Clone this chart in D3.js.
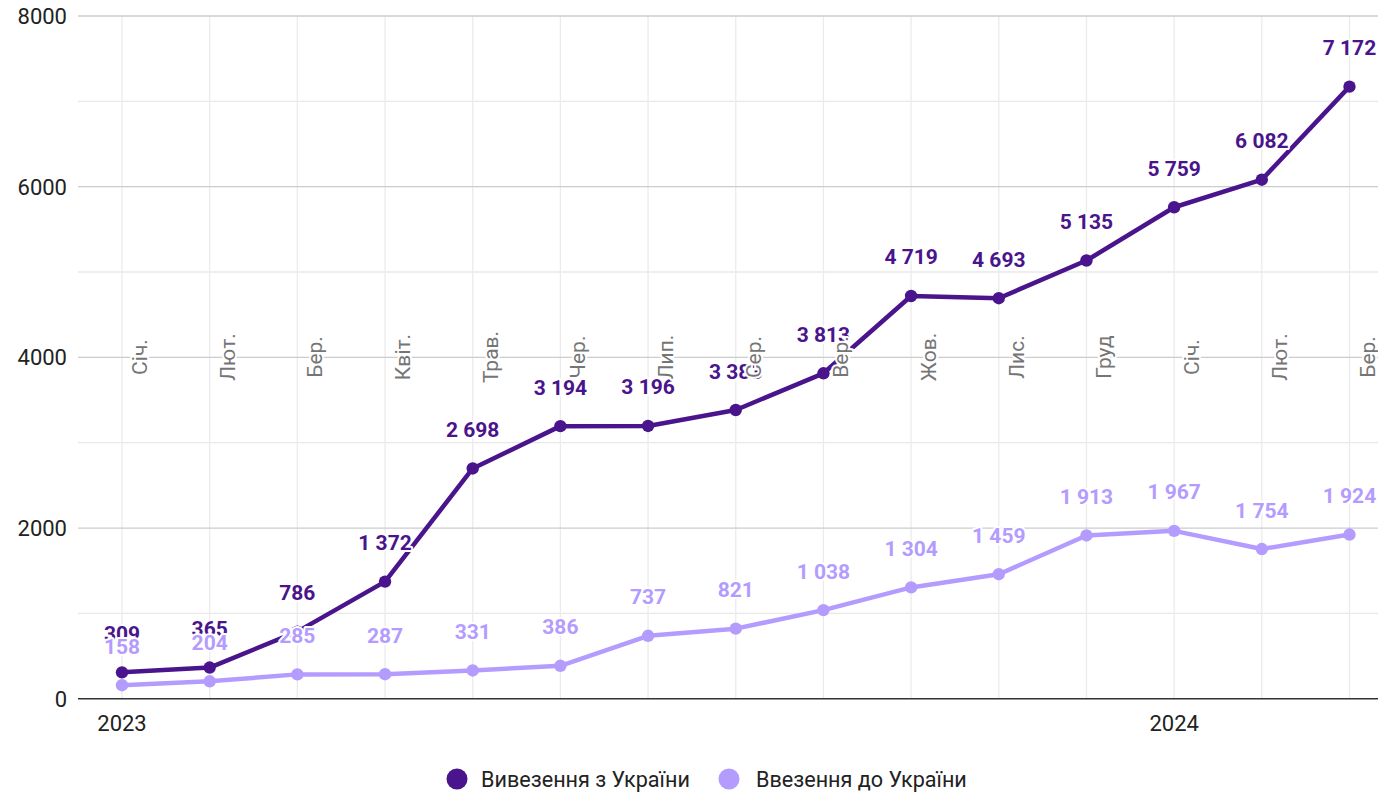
<!DOCTYPE html>
<html>
<head>
<meta charset="utf-8">
<script src="https://cdn.jsdelivr.net/npm/d3@7"></script>
<style>
  html, body { margin: 0; padding: 0; background: #fff; }
  svg { display: block; font-family: Roboto, "Noto Sans", sans-serif; }
</style>
</head>
<body>
<svg id="chart" width="1378" height="793"></svg>
<script>
// ---- data ----
const months = ["Січ.", "Лют.", "Бер.", "Квіт.", "Трав.", "Чер.", "Лип.", "Сер.", "Вер.", "Жов.", "Лис.", "Груд", "Січ.", "Лют.", "Бер."];
const exportValues = [309, 365, 786, 1372, 2698, 3194, 3196, 3383, 3813, 4719, 4693, 5135, 5759, 6082, 7172];
const importValues = [158, 204, 285, 287, 331, 386, 737, 821, 1038, 1304, 1459, 1913, 1967, 1754, 1924];
const yearLabels = [{ index: 0, label: "2023" }, { index: 12, label: "2024" }];
const yTicks = [0, 2000, 4000, 6000, 8000];
const yMinorTicks = [1000, 3000, 5000, 7000];
const seriesNames = ["Вивезення з України", "Ввезення до України"];
const seriesColors = ["#4a148c", "#b49cff"];

// ---- layout ----
const svg = d3.select("#chart");
const plotLeft = 78, plotRight = 1378, plotTop = 16, plotBottom = 698.7;

const x = d3.scalePoint().domain(d3.range(months.length)).range([122, 1349.5]);
const y = d3.scaleLinear().domain([0, 8000]).range([plotBottom, plotTop]);

const fmt = d3.formatLocale({ decimal: ".", thousands: " ", grouping: [3], currency: ["", ""] }).format(",d");

// grid
const grid = svg.append("g");
grid.selectAll("line.minor").data(yMinorTicks).join("line")
  .attr("x1", plotLeft).attr("x2", plotRight)
  .attr("y1", d => y(d)).attr("y2", d => y(d))
  .attr("stroke", "#e8e8e8").attr("stroke-width", 1.3);
grid.selectAll("line.vert").data(d3.range(months.length)).join("line")
  .attr("x1", d => x(d)).attr("x2", d => x(d))
  .attr("y1", plotTop).attr("y2", plotBottom)
  .attr("stroke", "#ebebeb").attr("stroke-width", 1.3);
grid.selectAll("line.major").data(yTicks.filter(d => d > 0)).join("line")
  .attr("x1", plotLeft).attr("x2", plotRight)
  .attr("y1", d => y(d)).attr("y2", d => y(d))
  .attr("stroke", "#cccccc").attr("stroke-width", 1.3);

// y tick labels
svg.append("g").selectAll("text").data(yTicks).join("text")
  .attr("x", 67).attr("y", d => y(d)).attr("dy", "0.36em")
  .attr("text-anchor", "end")
  .attr("font-size", 22).attr("fill", "#222")
  .text(d => d);

// baseline axis
svg.append("line")
  .attr("x1", plotLeft).attr("x2", plotRight)
  .attr("y1", y(0)).attr("y2", y(0))
  .attr("stroke", "#333").attr("stroke-width", 1.6);

// year labels
svg.append("g").selectAll("text").data(yearLabels).join("text")
  .attr("x", d => x(d.index)).attr("y", 731)
  .attr("text-anchor", "middle")
  .attr("font-size", 22).attr("fill", "#222")
  .text(d => d.label);

// series
const series = [exportValues, importValues];
const line = d3.line().x((d, i) => x(i)).y(d => y(d));

series.forEach((vals, s) => {
  const g = svg.append("g");
  g.append("path").datum(vals)
    .attr("d", line)
    .attr("fill", "none")
    .attr("stroke", seriesColors[s])
    .attr("stroke-width", 4.5)
    .attr("stroke-linejoin", "round");
  g.selectAll("circle").data(vals).join("circle")
    .attr("cx", (d, i) => x(i)).attr("cy", d => y(d))
    .attr("r", 6.2)
    .attr("fill", seriesColors[s]);
});

// data labels
series.forEach((vals, s) => {
  svg.append("g").selectAll("text").data(vals).join("text")
    .attr("x", (d, i) => x(i)).attr("y", d => y(d) - 31.5)
    .attr("text-anchor", "middle")
    .attr("font-size", 21).attr("font-weight", "bold")
    .attr("fill", seriesColors[s])
    .attr("stroke", "#fff").attr("stroke-width", 4)
    .attr("stroke-linejoin", "round")
    .attr("paint-order", "stroke")
    .text(d => fmt(d));
});

// month labels (rotated, inside plot)
svg.append("g").selectAll("text").data(months).join("text")
  .attr("transform", (d, i) => `translate(${x(i) + 25},357) rotate(-90)`)
  .attr("text-anchor", "middle")
  .attr("font-size", 21).attr("fill", "#757575")
  .attr("stroke", "#fff").attr("stroke-width", 4)
  .attr("stroke-linejoin", "round")
  .attr("paint-order", "stroke")
  .text(d => d);

// legend
const legendItems = [{ cx: 457, tx: 481 }, { cx: 729, tx: 756 }];
const lg = svg.append("g");
legendItems.forEach((p, i) => {
  lg.append("circle").attr("cx", p.cx).attr("cy", 779).attr("r", 10.5).attr("fill", seriesColors[i]);
  lg.append("text").attr("x", p.tx).attr("y", 779).attr("dy", "0.36em")
    .attr("font-size", 21.6).attr("fill", "#222")
    .text(seriesNames[i]);
});
</script>
</body>
</html>
